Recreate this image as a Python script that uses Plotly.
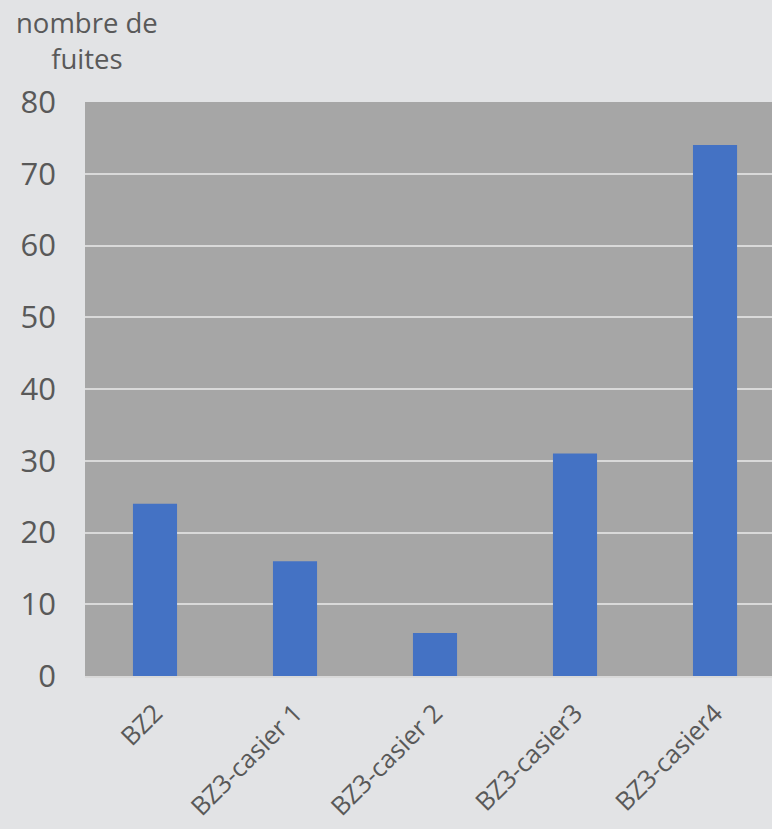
import plotly.graph_objects as go

categories = ["BZ2", "BZ3-casier 1", "BZ3-casier 2", "BZ3-casier3", "BZ3-casier4"]
values = [24, 16, 6, 31, 74]
y_ticks = [0, 10, 20, 30, 40, 50, 60, 70, 80]

font_family = "Open Sans"
text_color = "#595959"

fig = go.Figure(go.Bar(
    x=list(range(len(categories))),
    y=values,
    marker=dict(color="#4472C4", line=dict(width=0)),
    width=0.315,
))

fig.update_layout(
    width=772, height=829,
    margin=dict(l=85, r=0, t=102, b=153),
    paper_bgcolor="#E2E3E5",
    plot_bgcolor="#A6A6A6",
    showlegend=False,
    font=dict(family=font_family, color=text_color),
    xaxis=dict(
        range=[-0.5, 4.407],
        tickmode="array",
        tickvals=list(range(len(categories))),
        ticktext=categories,
        tickangle=-45,
        tickfont=dict(size=25.5, color=text_color, family=font_family),
        showgrid=False,
        showline=True, linecolor="#D9D9D9", linewidth=2,
        ticks="", ticklabelstandoff=10,
        automargin=False,
        fixedrange=True,
    ),
    yaxis=dict(
        range=[0, 80],
        tickmode="array",
        tickvals=y_ticks,
        tickfont=dict(size=31, color=text_color, family=font_family),
        showgrid=True, gridcolor="#D9D9D9", gridwidth=2,
        zeroline=False,
        ticks="", ticklabelstandoff=28,
        automargin=False,
        fixedrange=True,
    ),
    annotations=[dict(
        text="nombre de<br>fuites",
        xref="paper", yref="paper",
        x=0.003, y=1.174, xanchor="center", yanchor="top",
        showarrow=False,
        font=dict(size=27.5, color=text_color, family=font_family),
        align="center",
    )],
)

fig.write_html("out.html")
